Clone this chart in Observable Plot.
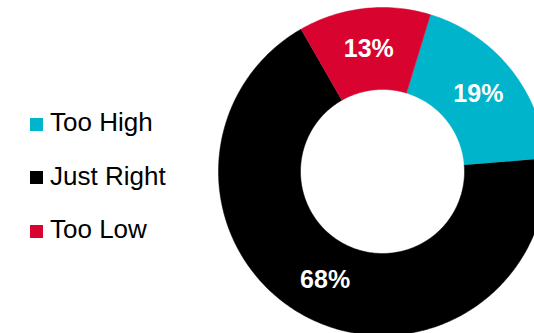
<!DOCTYPE html>
<html><head><meta charset="utf-8">
<script src="https://cdn.jsdelivr.net/npm/d3@7"></script>
<script src="https://cdn.jsdelivr.net/npm/@observablehq/plot@0.6"></script>
<style>
body{margin:0;background:#fff;font-family:"Liberation Sans",Arial,sans-serif;}
#wrap{position:relative;width:534px;height:333px;overflow:hidden;}
#legend{position:absolute;left:30px;top:0;}
.item{position:absolute;left:0;display:flex;align-items:center;white-space:nowrap;font-size:26px;line-height:26px;color:#000;}
.sw{width:13px;height:13px;margin-right:7px;flex:none;position:relative;top:2px;}
</style></head><body><div id="wrap"></div>
<script>
const categories = ["Too High", "Just Right", "Too Low"];
const values = [19, 68, 13];
const colors = ["#00B4CC", "#000000", "#D8042F"];
const labels = ["19%", "68%", "13%"];
const startDeg = 17;

const innerR = 0.5, outerR = 1;
const pie = d3.pie().sort(null).value(d => d.value)
  .startAngle(startDeg * Math.PI / 180)
  .endAngle(startDeg * Math.PI / 180 + 2 * Math.PI);
const data = categories.map((c, i) => ({category: c, value: values[i], label: labels[i]}));
const arcs = pie(data);

// Slice outlines in data units (angle clockwise from top)
const pts = [];
for (const a of arcs) {
  const n = Math.max(4, Math.ceil((a.endAngle - a.startAngle) * 180 / Math.PI));
  for (let k = 0; k <= n; k++) {
    const t = a.startAngle + (a.endAngle - a.startAngle) * k / n;
    pts.push({category: a.data.category, x: outerR * Math.sin(t), y: outerR * Math.cos(t)});
  }
  for (let k = n; k >= 0; k--) {
    const t = a.startAngle + (a.endAngle - a.startAngle) * k / n;
    pts.push({category: a.data.category, x: innerR * Math.sin(t), y: innerR * Math.cos(t)});
  }
}
const mid = arcs.map(a => {
  const t = (a.startAngle + a.endAngle) / 2, r = (innerR + outerR) / 2;
  return {label: a.data.label, x: r * Math.sin(t), y: r * Math.cos(t)};
});

const chart = Plot.plot({
  width: 534, height: 333,
  margin: 0,
  style: {fontFamily: "'Liberation Sans', Arial, sans-serif", background: "#fff"},
  x: {domain: [-1, 1], range: [218, 546], axis: null},
  y: {domain: [-1, 1], range: [335, 7], axis: null},
  color: {domain: categories, range: colors},
  marks: [
    Plot.line(pts, {x: "x", y: "y", z: "category", fill: "category", stroke: "category", strokeWidth: 0.5, curve: "linear"}),
    Plot.text(mid, {x: "x", y: "y", text: "label", fill: "white", fontSize: 25, fontWeight: "bold"})
  ]
});
const wrap = document.getElementById("wrap");
wrap.appendChild(chart);

const legend = document.createElement("div");
legend.id = "legend";
const tops = [109, 162.5, 216];
categories.forEach((c, i) => {
  const it = document.createElement("div");
  it.className = "item";
  it.style.top = tops[i] + "px";
  const sw = document.createElement("span");
  sw.className = "sw";
  sw.style.background = colors[i];
  const tx = document.createElement("span");
  tx.textContent = c;
  it.appendChild(sw); it.appendChild(tx);
  legend.appendChild(it);
});
wrap.appendChild(legend);
</script></body></html>
